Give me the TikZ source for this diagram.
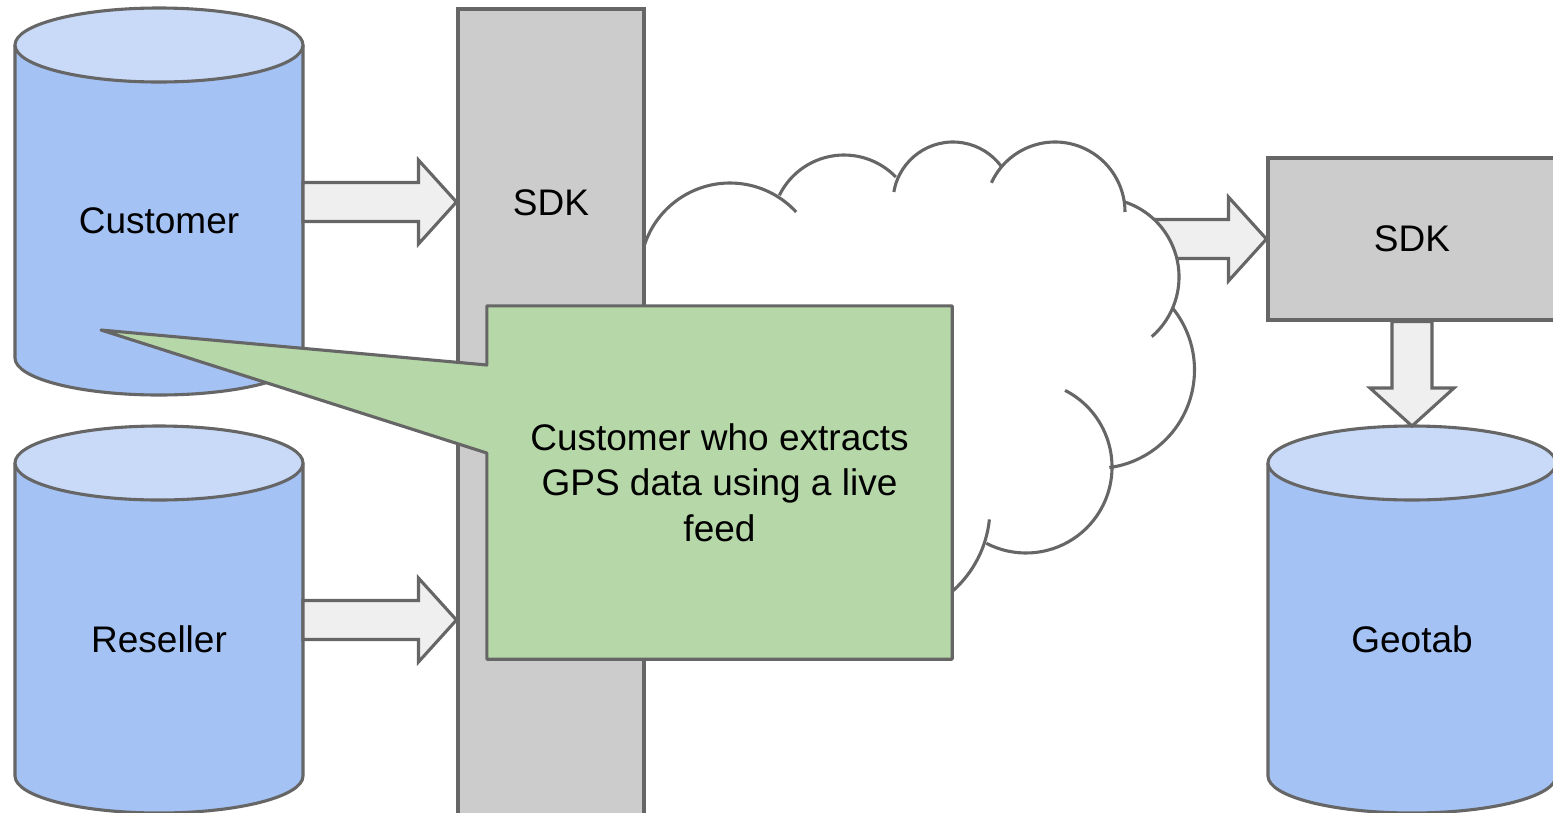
\documentclass[tikz,border=0pt]{standalone}
\usepackage{fontspec}
\setmainfont{Liberation Sans}
\usetikzlibrary{calc}
\definecolor{strokeg}{HTML}{666666}
\definecolor{cylbody}{HTML}{A4C2F4}
\definecolor{cyltop}{HTML}{C9DAF8}
\definecolor{sdkgray}{HTML}{CCCCCC}
\definecolor{notegreen}{HTML}{B6D7A8}
\definecolor{arrowfill}{HTML}{EFEFEF}
\begin{document}
\begin{tikzpicture}[x=1pt,y=-1pt,
  line/.style={draw=strokeg, line width=3.1pt},
  txt/.style={font=\fontsize{37}{45.5}\selectfont, text=black, inner sep=0pt},
  blockarr/.style={line, fill=arrowfill},
  harrow/.style={to path={let \p1=(\tikztostart), \p2=(\tikztotarget) in
     (\x1,\y2+19.5pt) -- (\x2-38pt,\y2+19.5pt) -- (\x2-38pt,\y2+42pt) -- (\p2)
     -- (\x2-38pt,\y2-42pt) -- (\x2-38pt,\y2-19.5pt) -- (\x1,\y2-19.5pt) -- cycle}},
  varrow/.style={to path={let \p1=(\tikztostart), \p2=(\tikztotarget) in
     (\x2-20pt,\y1) -- (\x2-20pt,\y2+38pt) -- (\x2-42pt,\y2+38pt) -- (\p2)
     -- (\x2+42pt,\y2+38pt) -- (\x2+20pt,\y2+38pt) -- (\x2+20pt,\y1) -- cycle}},
  cloudarc/.style={line},
  pics/dbcyl/.style={code={
     \path[fill=cylbody] (-144,0) -- (-144,313)
        arc[start angle=180,end angle=0,x radius=144,y radius=37] -- (144,0)
        arc[start angle=0,end angle=-180,x radius=144,y radius=37] -- cycle;
     \draw[line] (-144,0) -- (-144,313)
        arc[start angle=180,end angle=0,x radius=144,y radius=37] -- (144,0);
     \draw[line, fill=cyltop] (0,0) ellipse[x radius=144,y radius=37];
     \node[txt] (-label) at (0,176) {#1};
     \coordinate (-e) at (144,157);
     \coordinate (-top) at (0,-37);
  }},
]
\useasboundingbox (0,0) rectangle (1553,812);

% right SDK box and arrow from the cloud
\node[line, fill=sdkgray, txt, minimum width=288pt, minimum height=162pt] (sdk2) at (1412,239) {SDK};
\coordinate (cloudR) at (1150,239);
\draw[blockarr, harrow] (cloudR) to (sdk2.west);

% cloud
\fill[white] (1100,277) circle[radius=79];
\draw[cloudarc] (730,273) ++(185:90) arc[start angle=185,end angle=317.3,radius=90];
\draw[cloudarc] (844,227) ++(206.2:72) arc[start angle=206.2,end angle=316.1,radius=72];
\draw[cloudarc] (953,202) ++(189.6:60) arc[start angle=189.6,end angle=324.4,radius=60];
\draw[cloudarc] (1055,212) ++(204.7:70) arc[start angle=204.7,end angle=360,radius=70];
\draw[cloudarc] (1100,277) ++(287.7:79) arc[start angle=287.7,end angle=409.1,radius=79];
\draw[cloudarc] (1096,370) ++(-39.2:98.5) arc[start angle=-39.2,end angle=82.2,radius=98.5];
\draw[cloudarc] (1026,467) ++(-63:86) arc[start angle=-63,end angle=117.5,radius=86];
\draw[cloudarc] (879,508) ++(5.9:111) arc[start angle=5.9,end angle=90,radius=111];

% left SDK bar
\node[line, fill=sdkgray, minimum width=186pt, minimum height=806pt, inner sep=0pt] (sdk1) at (551,412) {};
\node[txt] (sdk1lbl) at (551,203) {SDK};

% cylinders
\pic (cust) at (159,45) {dbcyl=Customer};
\pic (res) at (159,463) {dbcyl=Reseller};
\pic (geo) at (1412,463) {dbcyl=Geotab};

% block arrows
\coordinate (sdk1in1) at (sdk1.west |- cust-e);
\coordinate (sdk1in2) at (sdk1.west |- res-e);
\draw[blockarr, harrow] (cust-e) to (sdk1in1);
\draw[blockarr, harrow] (res-e) to (sdk1in2);
\draw[blockarr, varrow] (sdk2.south) to (geo-top);

% callout
\node[minimum width=465pt, minimum height=353pt, inner sep=0pt] (notebox) at (719.5,482.5) {};
\coordinate (tip) at (101,330);
\draw[line, fill=notegreen, line join=round] (notebox.north west) -- (notebox.north east) -- (notebox.south east)
   -- (notebox.south west) -- (notebox.west |- 0,453) -- (tip) -- (notebox.west |- 0,365) -- cycle;
\node[txt, align=center] (note) at (notebox.center) {Customer who extracts\\GPS data using a live\\feed};
\end{tikzpicture}
\end{document}
